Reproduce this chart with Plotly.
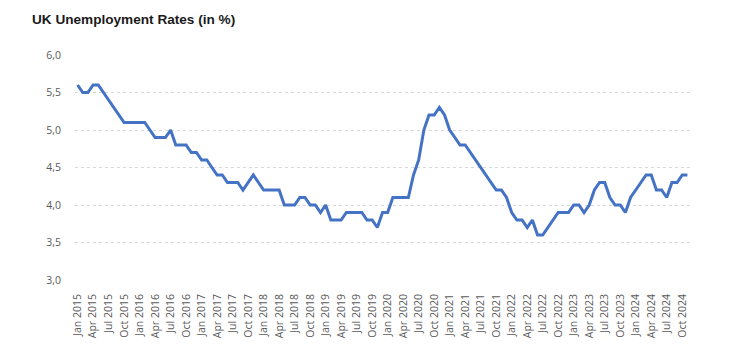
import plotly.graph_objects as go

# Monthly UK unemployment rate (%), Jan 2015 - Nov 2024
rate_2015 = [5.6, 5.5, 5.5, 5.6, 5.6, 5.5, 5.4, 5.3, 5.2, 5.1, 5.1, 5.1]
rate_2016 = [5.1, 5.1, 5.0, 4.9, 4.9, 4.9, 5.0, 4.8, 4.8, 4.8, 4.7, 4.7]
rate_2017 = [4.6, 4.6, 4.5, 4.4, 4.4, 4.3, 4.3, 4.3, 4.2, 4.3, 4.4, 4.3]
rate_2018 = [4.2, 4.2, 4.2, 4.2, 4.0, 4.0, 4.0, 4.1, 4.1, 4.0, 4.0, 3.9]
rate_2019 = [4.0, 3.8, 3.8, 3.8, 3.9, 3.9, 3.9, 3.9, 3.8, 3.8, 3.7, 3.9]
rate_2020 = [3.9, 4.1, 4.1, 4.1, 4.1, 4.4, 4.6, 5.0, 5.2, 5.2, 5.3, 5.2]
rate_2021 = [5.0, 4.9, 4.8, 4.8, 4.7, 4.6, 4.5, 4.4, 4.3, 4.2, 4.2, 4.1]
rate_2022 = [3.9, 3.8, 3.8, 3.7, 3.8, 3.6, 3.6, 3.7, 3.8, 3.9, 3.9, 3.9]
rate_2023 = [4.0, 4.0, 3.9, 4.0, 4.2, 4.3, 4.3, 4.1, 4.0, 4.0, 3.9, 4.1]
rate_2024 = [4.2, 4.3, 4.4, 4.4, 4.2, 4.2, 4.1, 4.3, 4.3, 4.4, 4.4]

years = [2015, 2016, 2017, 2018, 2019, 2020, 2021, 2022, 2023, 2024]
month_names = ["Jan", "Feb", "Mar", "Apr", "May", "Jun",
               "Jul", "Aug", "Sep", "Oct", "Nov", "Dec"]
yearly = [rate_2015, rate_2016, rate_2017, rate_2018, rate_2019,
          rate_2020, rate_2021, rate_2022, rate_2023, rate_2024]

categories = []
rates = []
for yr, vals in zip(years, yearly):
    for m, v in zip(month_names, vals):
        categories.append(f"{m} {yr}")
        rates.append(v)

tick_labels = [c for c in categories if c.split()[0] in ("Jan", "Apr", "Jul", "Oct")]
y_ticks = [3.0, 3.5, 4.0, 4.5, 5.0, 5.5, 6.0]

fig = go.Figure(
    go.Scatter(
        x=categories, y=rates, mode="lines",
        line=dict(color="#4472C4", width=3),
        hoverinfo="x+y",
    )
)

tick_font = dict(family="Open Sans, Segoe UI, sans-serif", size=10.5, color="#595959")

fig.update_layout(
    width=736, height=358,
    margin=dict(l=75, r=46, t=55, b=78),
    paper_bgcolor="white", plot_bgcolor="white",
    separators=", ",
    showlegend=False,
    title=dict(
        text="<b>UK Unemployment Rates (in %)</b>",
        font=dict(family="Liberation Sans, Arial, sans-serif", size=13.6, color="#1a1a1a"),
        x=32 / 736, xref="container", xanchor="left",
        y=1 - 19 / 358, yref="container", yanchor="middle",
    ),
    xaxis=dict(
        type="category",
        categoryorder="array", categoryarray=categories,
        range=[-0.5, len(categories) - 0.5],
        tickmode="array", tickvals=tick_labels, ticktext=tick_labels,
        tickangle=-90, tickfont=tick_font,
        showgrid=False, showline=False, zeroline=False,
        ticks="", ticklabelstandoff=11,
    ),
    yaxis=dict(
        range=[3.0, 6.0],
        tickmode="array", tickvals=y_ticks,
        tickformat=".1f", tickfont=tick_font,
        showgrid=True, gridcolor="#D9D9D9", griddash="3px,3px", gridwidth=1,
        showline=False, zeroline=False, ticks="", ticklabelstandoff=13,
    ),
)

fig.write_html(
    "out.html",
    config={"displayModeBar": False},
    post_script="document.body.style.margin='0';document.body.style.padding='0';",
)
